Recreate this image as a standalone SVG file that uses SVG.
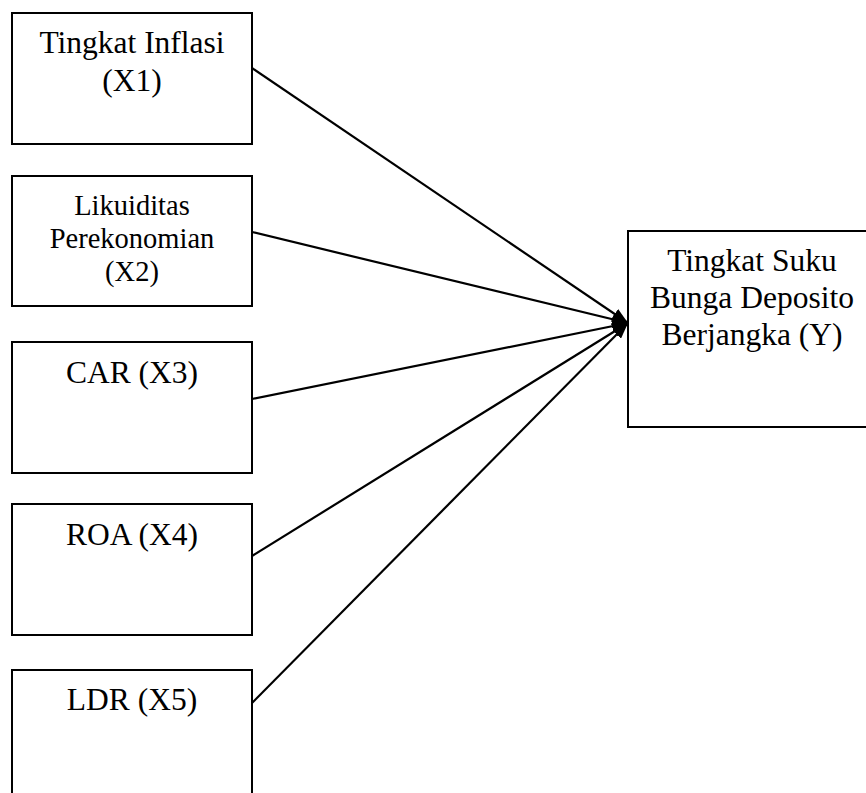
<svg xmlns="http://www.w3.org/2000/svg" width="866" height="793" viewBox="0 0 866 793">
<style>
.box{fill:#fff;stroke:#000;stroke-width:2}
.t{font-family:"Liberation Serif","Times New Roman",serif;font-size:31.5px;fill:#000;text-anchor:middle}
.s{font-size:28.5px}
.c{stroke:#000;stroke-width:2.2;fill:none}
</style>
<defs>
<marker id="ah" viewBox="0 0 16 12" refX="16" refY="6" markerWidth="16" markerHeight="12" markerUnits="userSpaceOnUse" orient="auto">
<path d="M0,0 L16,6 L0,12 Z" fill="#000"/>
</marker>
</defs>
<rect width="866" height="793" fill="#fff"/>
<g id="x1"><rect class="box" x="12" y="13" width="240" height="131"/>
<text class="t" x="132" y="53">Tingkat Inflasi</text><text class="t" x="132" y="91">(X1)</text></g>
<g id="x2"><rect class="box" x="12" y="176" width="240" height="130"/>
<text class="t s" x="132" y="215">Likuiditas</text><text class="t s" x="132" y="248">Perekonomian</text><text class="t s" x="132" y="281">(X2)</text></g>
<g id="x3"><rect class="box" x="12" y="342" width="240" height="131"/>
<text class="t" x="132" y="383">CAR (X3)</text></g>
<g id="x4"><rect class="box" x="12" y="504" width="240" height="131"/>
<text class="t" x="132" y="545">ROA (X4)</text></g>
<g id="x5"><rect class="box" x="12" y="670" width="240" height="140"/>
<text class="t" x="132" y="710">LDR (X5)</text></g>
<g id="y"><rect class="box" x="628" y="231" width="250" height="196"/>
<text class="t" x="752" y="271">Tingkat Suku</text><text class="t" x="752" y="308">Bunga Deposito</text><text class="t" x="752" y="345">Berjangka (Y)</text></g>
<g id="connectors">
<line class="c" x1="252" y1="68" x2="628" y2="323" marker-end="url(#ah)"/>
<line class="c" x1="252" y1="232" x2="628" y2="323" marker-end="url(#ah)"/>
<line class="c" x1="252" y1="399" x2="628" y2="323" marker-end="url(#ah)"/>
<line class="c" x1="252" y1="556" x2="628" y2="323" marker-end="url(#ah)"/>
<line class="c" x1="252" y1="703" x2="628" y2="323" marker-end="url(#ah)"/>
</g>
</svg>
